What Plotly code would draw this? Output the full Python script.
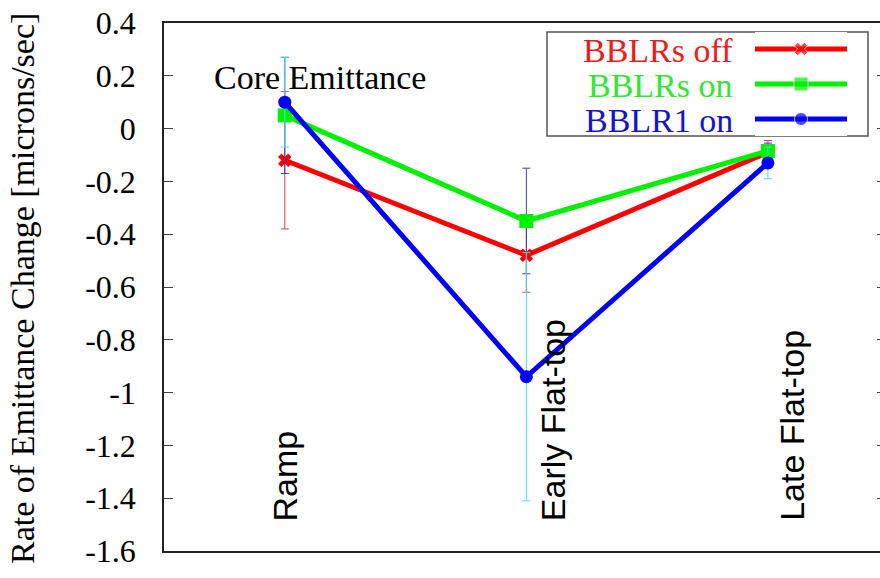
import plotly.graph_objects as go

# ---------------- data ----------------
categories = ["Ramp", "Early Flat-top", "Late Flat-top"]
x_pos = [1, 2, 3]

series_names = ["BBLRs off", "BBLRs on", "BBLR1 on"]
bblrs_off = [-0.12, -0.48, -0.09]
bblrs_off_err = [0.26, 0.14, 0.045]
bblrs_on = [0.05, -0.35, -0.085]
bblrs_on_err = [0.22, 0.20, 0.03]
bblr1_on = [0.10, -0.94, -0.13]
bblr1_on_err = [0.17, 0.47, 0.06]

y_tick_vals = [0.4, 0.2, 0.0, -0.2, -0.4, -0.6, -0.8, -1.0, -1.2, -1.4, -1.6]
y_tick_text = ["0.4", "0.2", "0", "-0.2", "-0.4", "-0.6", "-0.8", "-1", "-1.2", "-1.4", "-1.6"]

y_title = "Rate of Emittance Change [microns/sec]"
panel_label = "Core Emittance"

# ---------------- styles ----------------
SERIF = "Liberation Serif"
SANS = "Liberation Sans"
line_colors = ["#ff0000", "#00f000", "#0000ff"]
err_colors = ["#e04040", "#3a3acc", "#40e0f0"]
text_colors = ["#ee1c1c", "#33e633", "#1414cc"]
symbols = ["x", "square", "circle"]
msizes = [12, 14, 13]

W, H = 880, 578
L, T, B, R = 164, 23, 27, 0
PW = W - L - R
PH = H - T - B

fig = go.Figure()

series = [
    (bblrs_off, bblrs_off_err),
    (bblrs_on, bblrs_on_err),
    (bblr1_on, bblr1_on_err),
]
for i, (vals, errs) in enumerate(series):
    fig.add_trace(go.Scatter(
        x=x_pos, y=vals, name=series_names[i], mode="lines+markers",
        line=dict(color=line_colors[i], width=5),
        marker=dict(symbol=symbols[i], size=msizes[i], color=line_colors[i]),
        error_y=dict(type="data", array=errs, visible=True,
                     color=err_colors[i], thickness=1, width=4),
        showlegend=False, xaxis="x", yaxis="y",
    ))

# --------- manual legend (text left, key right) ----------
def px_x(p):
    return (p - L) / PW

def px_y(p):
    return (H - B - p) / PH

leg_x0, leg_x1, leg_y0, leg_y1 = 547, 868, 32, 136
row_y = [49, 84, 119]
fig.add_shape(type="rect", xref="paper", yref="paper",
              x0=px_x(leg_x0), x1=px_x(leg_x1), y0=px_y(leg_y1), y1=px_y(leg_y0),
              line=dict(color="#555555", width=1.5), fillcolor="white", layer="below")

for i, name in enumerate(series_names):
    fig.add_annotation(xref="paper", yref="paper", x=px_x(735), y=px_y(row_y[i] + 1),
                       text=name, showarrow=False, xanchor="right", yanchor="middle",
                       height=33, valign="middle",
                       font=dict(family=SERIF, size=34, color=text_colors[i]))
    fig.add_trace(go.Scatter(
        x=[0, 0.5, 1], y=[row_y[i]] * 3, mode="lines+markers",
        line=dict(color=line_colors[i], width=5),
        marker=dict(symbol=symbols[i], size=[0, msizes[i], 0], color=line_colors[i]),
        showlegend=False, hoverinfo="skip", xaxis="x2", yaxis="y3",
    ))

# --------- text annotations ----------
fig.add_annotation(xref="paper", yref="paper", x=px_x(22), y=px_y(289),
                   text=y_title, textangle=-90, showarrow=False,
                   xanchor="center", yanchor="middle",
                   font=dict(family=SERIF, size=34, color="black"))

fig.add_annotation(xref="x", yref="y", x=0.70, y=0.195, text=panel_label,
                   showarrow=False, xanchor="left", yanchor="middle",
                   font=dict(family=SERIF, size=34, color="black"))

cat_x = [1.0, 2.11, 3.10]
for cx, c in zip(cat_x, categories):
    fig.add_annotation(xref="x", yref="y", x=cx, y=-1.495, text=c, textangle=-90,
                       showarrow=False, xanchor="center", yanchor="bottom",
                       font=dict(family=SANS, size=34, color="black"))

fig.update_layout(
    width=W, height=H, template="none",
    margin=dict(l=L, r=R, t=T, b=B, pad=0, autoexpand=False),
    paper_bgcolor="white", plot_bgcolor="white",
    showlegend=False,
    xaxis=dict(range=[0.5, 3.464], showgrid=False, zeroline=False,
               showticklabels=False, ticks="", showline=True, mirror=True,
               linecolor="#222222", linewidth=1.5, domain=[0, 1]),
    yaxis=dict(range=[-1.6, 0.4], tickvals=y_tick_vals, ticktext=y_tick_text,
               ticks="inside", ticklen=9, tickcolor="#444444", tickwidth=1,
               showgrid=False, zeroline=False, showline=True, linecolor="#222222",
               linewidth=1.5, ticklabelstandoff=20,
               tickfont=dict(family=SERIF, size=32, color="black")),
    yaxis2=dict(range=[-1.6, 0.4], tickvals=y_tick_vals, overlaying="y", side="right",
                ticks="inside", ticklen=3, tickcolor="#444444", showticklabels=False,
                showgrid=False, zeroline=False, showline=False),
    xaxis2=dict(domain=[px_x(755), px_x(847)], range=[0, 1], anchor="y3",
                visible=False, fixedrange=True),
    yaxis3=dict(domain=[px_y(leg_y1), px_y(leg_y0)], range=[leg_y1, leg_y0],
                anchor="x2", visible=False, fixedrange=True),
)

# invisible trace so the mirrored right-hand ticks axis is drawn
fig.add_trace(go.Scatter(x=[x_pos[0]], y=[bblrs_off[0]], yaxis="y2", xaxis="x",
                         mode="markers", marker=dict(opacity=0), showlegend=False,
                         hoverinfo="skip"))

fig.write_html("out.html")
